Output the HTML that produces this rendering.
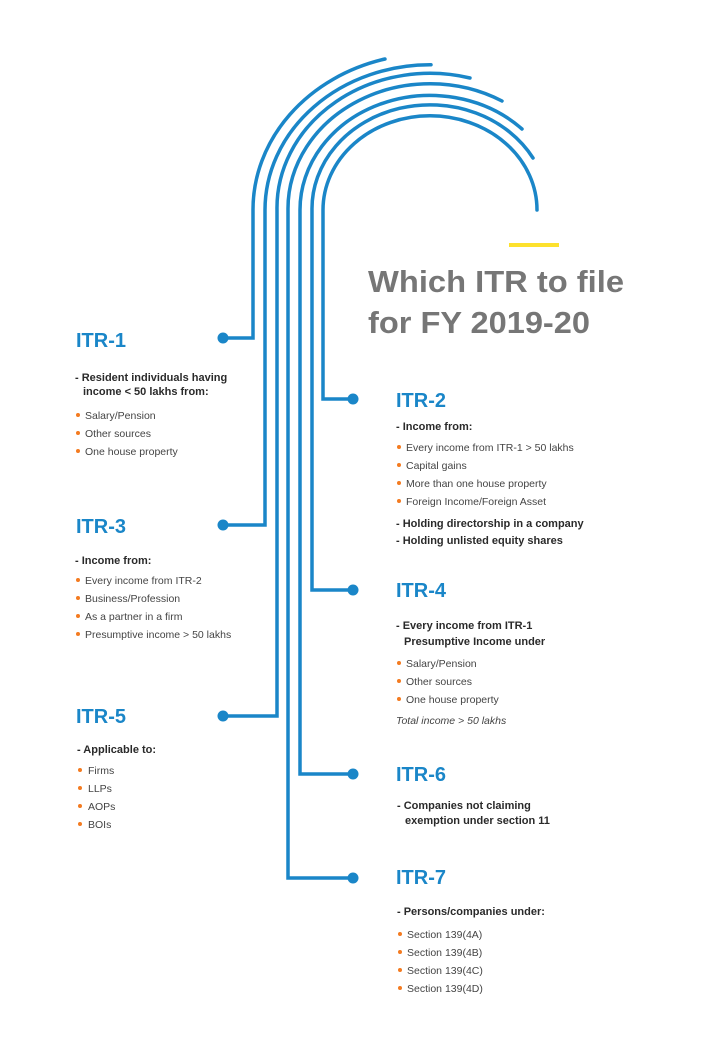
<!DOCTYPE html>
<html><head><meta charset="utf-8"><style>
html,body{margin:0;padding:0;background:#fff;}
svg{display:block;font-family:"Liberation Sans",sans-serif;}
.t{font-size:20px;font-weight:bold;fill:#1a86c8;}
.s{font-size:11px;font-weight:bold;fill:#2a2a2a;}
.b{font-size:10.5px;fill:#444;}
.d{fill:#f47b20;}
</style></head><body>
<svg width="709" height="1040" viewBox="0 0 709 1040">
<g fill="none" stroke="#1a86c8" stroke-width="3.5" stroke-linecap="round" stroke-linejoin="miter">
<path d="M223 338 H253 V210 A177 155.8 0 0 1 385 59"/>
<path d="M223 525 H265 V210 A165 145.2 0 0 1 431 64.8"/>
<path d="M223 716 H277 V210 A153 134.6 0 0 1 470 78"/>
<path d="M353 878 H288 V210 A142 125 0 0 1 502 101"/>
<path d="M353 774 H300 V210 A130 114.4 0 0 1 522 129"/>
<path d="M353 590 H312 V210 A118 103.8 0 0 1 533 158"/>
<path d="M353 399 H323 V210 A107 94.2 0 0 1 537 210"/>
</g>
<g fill="#1a86c8">
<circle cx="223" cy="338" r="5.5"/><circle cx="223" cy="525" r="5.5"/><circle cx="223" cy="716" r="5.5"/>
<circle cx="353" cy="399" r="5.5"/><circle cx="353" cy="590" r="5.5"/><circle cx="353" cy="774" r="5.5"/><circle cx="353" cy="878" r="5.5"/>
</g>
<rect x="509" y="243" width="50" height="4" fill="#fde12d"/>
<text x="368" y="292" font-size="31" font-weight="bold" fill="#767676" textLength="256" lengthAdjust="spacingAndGlyphs">Which ITR to file</text>
<text x="368" y="333" font-size="31" font-weight="bold" fill="#767676" textLength="222" lengthAdjust="spacingAndGlyphs">for FY 2019-20</text>

<text class="t" x="76" y="347">ITR-1</text>
<text class="s" x="75" y="381">- Resident individuals having</text>
<text class="s" x="83" y="395">income &lt; 50 lakhs from:</text>
<circle class="d" cx="78" cy="415" r="2"/><text class="b" x="85" y="419">Salary/Pension</text>
<circle class="d" cx="78" cy="433" r="2"/><text class="b" x="85" y="437">Other sources</text>
<circle class="d" cx="78" cy="451" r="2"/><text class="b" x="85" y="455">One house property</text>

<text class="t" x="76" y="533">ITR-3</text>
<text class="s" x="75" y="564">- Income from:</text>
<circle class="d" cx="78" cy="580" r="2"/><text class="b" x="85" y="584">Every income from ITR-2</text>
<circle class="d" cx="78" cy="598" r="2"/><text class="b" x="85" y="602">Business/Profession</text>
<circle class="d" cx="78" cy="616" r="2"/><text class="b" x="85" y="620">As a partner in a firm</text>
<circle class="d" cx="78" cy="634" r="2"/><text class="b" x="85" y="638">Presumptive income &gt; 50 lakhs</text>

<text class="t" x="76" y="723">ITR-5</text>
<text class="s" x="77" y="753">- Applicable to:</text>
<circle class="d" cx="80" cy="770" r="2"/><text class="b" x="88" y="774">Firms</text>
<circle class="d" cx="80" cy="788" r="2"/><text class="b" x="88" y="792">LLPs</text>
<circle class="d" cx="80" cy="806" r="2"/><text class="b" x="88" y="810">AOPs</text>
<circle class="d" cx="80" cy="824" r="2"/><text class="b" x="88" y="828">BOIs</text>

<text class="t" x="396" y="407">ITR-2</text>
<text class="s" x="396" y="430">- Income from:</text>
<circle class="d" cx="399" cy="447" r="2"/><text class="b" x="406" y="451">Every income from ITR-1 &gt; 50 lakhs</text>
<circle class="d" cx="399" cy="465" r="2"/><text class="b" x="406" y="469">Capital gains</text>
<circle class="d" cx="399" cy="483" r="2"/><text class="b" x="406" y="487">More than one house property</text>
<circle class="d" cx="399" cy="501" r="2"/><text class="b" x="406" y="505">Foreign Income/Foreign Asset</text>
<text class="s" x="396" y="527">- Holding directorship in a company</text>
<text class="s" x="396" y="544">- Holding unlisted equity shares</text>

<text class="t" x="396" y="597">ITR-4</text>
<text class="s" x="396" y="629">- Every income from ITR-1</text>
<text class="s" x="404" y="645">Presumptive Income under</text>
<circle class="d" cx="399" cy="663" r="2"/><text class="b" x="406" y="667">Salary/Pension</text>
<circle class="d" cx="399" cy="681" r="2"/><text class="b" x="406" y="685">Other sources</text>
<circle class="d" cx="399" cy="699" r="2"/><text class="b" x="406" y="703">One house property</text>
<text class="b" x="396" y="724" font-style="italic">Total income &gt; 50 lakhs</text>

<text class="t" x="396" y="781">ITR-6</text>
<text class="s" x="397" y="809">- Companies not claiming</text>
<text class="s" x="405" y="824">exemption under section 11</text>

<text class="t" x="396" y="884">ITR-7</text>
<text class="s" x="397" y="915">- Persons/companies under:</text>
<circle class="d" cx="400" cy="934" r="2"/><text class="b" x="407" y="938">Section 139(4A)</text>
<circle class="d" cx="400" cy="952" r="2"/><text class="b" x="407" y="956">Section 139(4B)</text>
<circle class="d" cx="400" cy="970" r="2"/><text class="b" x="407" y="974">Section 139(4C)</text>
<circle class="d" cx="400" cy="988" r="2"/><text class="b" x="407" y="992">Section 139(4D)</text>
</svg>
</body></html>
